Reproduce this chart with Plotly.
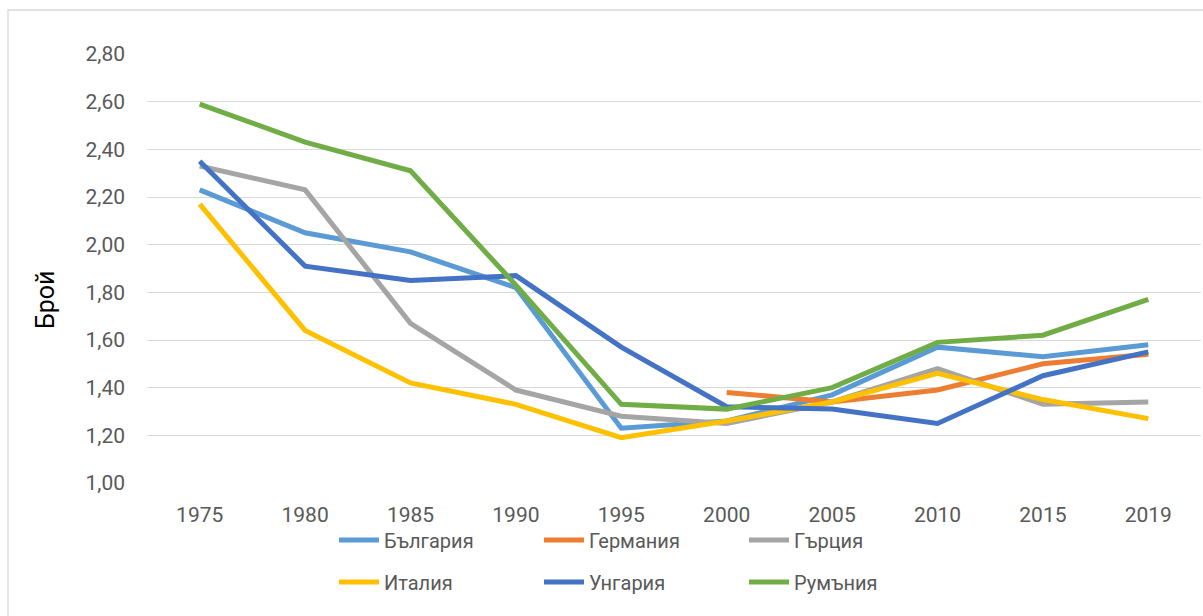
import plotly.graph_objects as go

years = ["1975", "1980", "1985", "1990", "1995", "2000", "2005", "2010", "2015", "2019"]

bulgaria = [2.23, 2.05, 1.97, 1.82, 1.23, 1.26, 1.37, 1.57, 1.53, 1.58]
germany = [None, None, None, None, None, 1.38, 1.34, 1.39, 1.50, 1.54]
greece = [2.33, 2.23, 1.67, 1.39, 1.28, 1.25, 1.34, 1.48, 1.33, 1.34]
italy = [2.17, 1.64, 1.42, 1.33, 1.19, 1.26, 1.34, 1.46, 1.35, 1.27]
hungary = [2.35, 1.91, 1.85, 1.87, 1.57, 1.32, 1.31, 1.25, 1.45, 1.55]
romania = [2.59, 2.43, 2.31, 1.83, 1.33, 1.31, 1.40, 1.59, 1.62, 1.77]

series = [
    ("България", bulgaria, "#5B9BD5", "legend"),
    ("Германия", germany, "#ED7D31", "legend"),
    ("Гърция", greece, "#A5A5A5", "legend"),
    ("Италия", italy, "#FFC000", "legend2"),
    ("Унгария", hungary, "#4472C4", "legend2"),
    ("Румъния", romania, "#70AD47", "legend2"),
]

W, H = 1203, 616
L, R, T, B = 147, 2, 54, 133
PW, PH = W - L - R, H - T - B
FONT = "Roboto"
GREY = "#595959"


def px_x(x):
    return (x - L) / PW


def px_y(y):
    return (H - B - y) / PH


fig = go.Figure()
for name, vals, color, leg in series:
    fig.add_trace(go.Scatter(
        x=years, y=vals, name=name, mode="lines",
        line=dict(color=color, width=5),
        legend=leg,
    ))

legend_common = dict(
    orientation="h", xanchor="left", yanchor="middle",
    font=dict(family=FONT, size=20, color=GREY),
    entrywidth=150, itemwidth=40, traceorder="normal",
    bgcolor="rgba(0,0,0,0)",
)

fig.update_layout(
    width=W, height=H,
    margin=dict(l=L, r=R, t=T, b=B, autoexpand=False),
    paper_bgcolor="white", plot_bgcolor="white",
    font=dict(family=FONT, color=GREY),
    separators=", ",
    showlegend=True,
    legend=dict(x=px_x(334), y=px_y(540), **legend_common),
    legend2=dict(x=px_x(334), y=px_y(582), **legend_common),
    xaxis=dict(
        type="category", range=[-0.5, 9.5],
        showgrid=False, zeroline=False, showline=False, ticks="",
        tickfont=dict(family=FONT, size=21, color=GREY),
        ticklabelstandoff=17,
    ),
    yaxis=dict(
        range=[1.0, 2.8], dtick=0.2, tickformat=".2f",
        showgrid=True, gridcolor="#D9D9D9", gridwidth=1.3,
        zeroline=False, showline=False, ticks="",
        tickfont=dict(family=FONT, size=21, color=GREY),
        ticklabelstandoff=21,
    ),
    shapes=[dict(
        type="rect", xref="paper", yref="paper",
        x0=px_x(8), x1=1.2, y0=-1, y1=px_y(10),
        line=dict(color="#D9D9D9", width=1.3),
        fillcolor="rgba(0,0,0,0)", layer="below",
    )],
    annotations=[dict(
        text="Брой", xref="paper", yref="paper",
        x=px_x(45), y=px_y(300), textangle=-90,
        showarrow=False, xanchor="center", yanchor="middle",
        font=dict(family=FONT, size=25, color="black"),
    )],
)

fig.write_html(
    "out.html",
    config={"displayModeBar": False},
    post_script="document.body.style.margin='0';document.body.style.overflow='hidden';",
)
